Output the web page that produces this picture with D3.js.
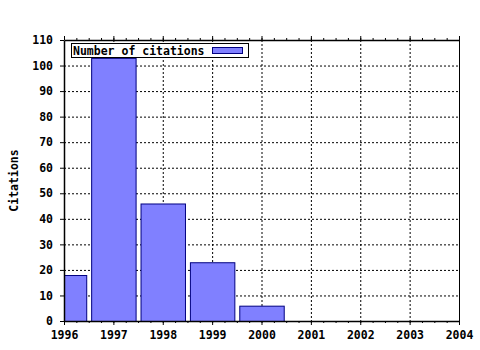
<!DOCTYPE html>
<html>
<head>
<meta charset="utf-8">
<script src="https://cdn.jsdelivr.net/npm/d3@7"></script>
<style>
body { margin: 0; background: #fff; }
text { font-family: "DejaVu Sans Mono", monospace; font-weight: bold; font-size: 11.5px; }
</style>
</head>
<body>
<svg></svg>
<script>
let years = [1996, 1997, 1998, 1999, 2000]
let citations = [18, 103, 46, 23, 6]
let xTicks = [1996, 1997, 1998, 1999, 2000, 2001, 2002, 2003, 2004]
let yTicks = [0, 10, 20, 30, 40, 50, 60, 70, 80, 90, 100, 110]
let seriesName = "Number of citations"

let width = 480
let height = 350
let plotLeft = 64, plotRight = 459, plotTop = 40, plotBottom = 321

let svg = d3.select("svg").attr("width", width).attr("height", height)

let xScale = d3.scaleLinear().domain([1996, 2004]).range([plotLeft, plotRight])
let yScale = d3.scaleLinear().domain([0, 110]).range([plotBottom, plotTop])

svg.append("clipPath").attr("id", "plot")
    .append("rect").attr("x", plotLeft).attr("y", plotTop)
    .attr("width", plotRight - plotLeft).attr("height", plotBottom - plotTop)

// dotted grid
svg.append("g").selectAll("line").data(xTicks.slice(1, -1)).enter().append("line")
    .attr("x1", d => xScale(d) + 0.5).attr("x2", d => xScale(d) + 0.5)
    .attr("y1", plotTop).attr("y2", plotBottom)
    .attr("stroke", "#000").attr("stroke-dasharray", "2,2")
svg.append("g").selectAll("line").data(yTicks.slice(1, -1)).enter().append("line")
    .attr("x1", plotLeft).attr("x2", plotRight)
    .attr("y1", d => yScale(d) + 0.5).attr("y2", d => yScale(d) + 0.5)
    .attr("stroke", "#000").attr("stroke-dasharray", "2,2")

// bars
let barW = xScale(1996.9) - xScale(1996)
svg.append("g").attr("clip-path", "url(#plot)")
    .selectAll("rect").data(years).enter().append("rect")
    .attr("x", (d) => xScale(d) - barW / 2 + 0.5)
    .attr("width", barW)
    .attr("y", (d, i) => yScale(citations[i]) + 0.5)
    .attr("height", (d, i) => plotBottom - yScale(citations[i]))
    .attr("fill", "#8080ff")
    .attr("stroke", "#000080")

// axes
let minorTicks = d3.range(1996, 2004.01, 0.25)
let xAxis = d3.axisBottom(xScale).tickValues(xTicks).tickFormat(d3.format("d")).tickSizeInner(4).tickSizeOuter(0).tickPadding(6)
let xAxisG = svg.append("g").attr("transform", "translate(0," + plotBottom + ")").call(xAxis)
xAxisG.append("g").selectAll("line").data(minorTicks).enter().append("line")
    .attr("x1", d => xScale(d) + 0.5).attr("x2", d => xScale(d) + 0.5)
    .attr("y1", 0).attr("y2", 2).attr("stroke", "#000")

let xTop = d3.axisTop(xScale).tickValues(xTicks).tickFormat("").tickSizeInner(4).tickSizeOuter(0)
let xTopG = svg.append("g").attr("transform", "translate(0," + plotTop + ")").call(xTop)
xTopG.append("g").selectAll("line").data(minorTicks).enter().append("line")
    .attr("x1", d => xScale(d) + 0.5).attr("x2", d => xScale(d) + 0.5)
    .attr("y1", 0).attr("y2", -2).attr("stroke", "#000")

let yAxis = d3.axisLeft(yScale).tickValues(yTicks).tickSizeInner(4).tickSizeOuter(0).tickPadding(7)
svg.append("g").attr("transform", "translate(" + plotLeft + ",0)").call(yAxis)

svg.append("line").attr("x1", plotRight + 0.5).attr("x2", plotRight + 0.5)
    .attr("y1", plotTop).attr("y2", plotBottom).attr("stroke", "#000")

svg.selectAll(".domain").attr("stroke-width", 1.5)
svg.selectAll(".tick text").attr("fill", "#000")
    .style("font-family", "'DejaVu Sans Mono', monospace").style("font-size", "11.5px").style("font-weight", "bold")

svg.append("text")
    .attr("transform", "translate(18," + ((plotTop + plotBottom) / 2) + ") rotate(-90)")
    .attr("text-anchor", "middle")
    .text("Citations")

// legend
let legend = svg.append("g").attr("transform", "translate(71,43)")
legend.append("rect").attr("x", 0.5).attr("y", 0.5).attr("width", 177).attr("height", 14)
    .attr("fill", "#fff").attr("stroke", "#000")
legend.append("text").attr("x", 2).attr("y", 11.5).text(seriesName)
legend.append("rect").attr("x", 141.5).attr("y", 4.5).attr("width", 30).attr("height", 6)
    .attr("fill", "#8080ff").attr("stroke", "#000080")
</script>
</body>
</html>
